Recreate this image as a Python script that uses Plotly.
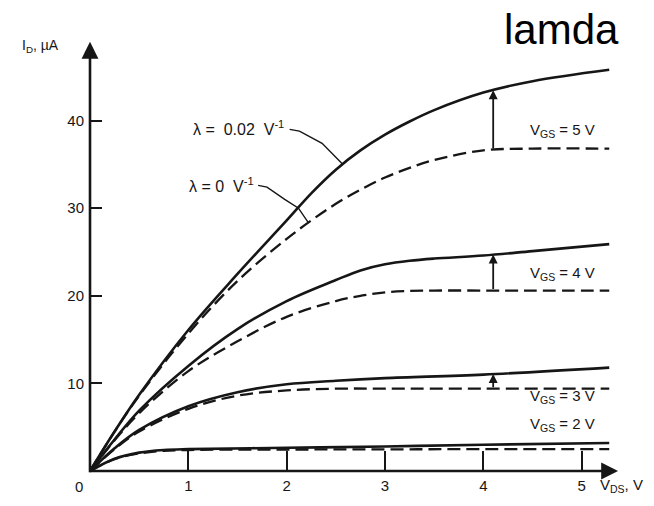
import numpy as np
import plotly.graph_objects as go

# Drain voltage samples (V) and drain current (uA) for each gate voltage
vds_5 = [0, 0.25, 0.5, 1.0, 1.5, 2.0, 2.25, 2.5, 2.75, 3.0, 3.25, 3.5, 4.0, 4.5, 5.28]
id_5_lam = [0, 4.5, 8.7, 16.1, 22.5, 28.6, 31.7, 34.4, 36.6, 38.4, 39.9, 41.2, 43.2, 44.5, 45.8]
id_5_ideal = [0, 4.5, 8.6, 15.7, 21.7, 26.5, 28.6, 30.5, 32.1, 33.5, 34.6, 35.5, 36.6, 36.8, 36.8]

vds_4 = [0, 0.25, 0.5, 1.0, 1.5, 2.0, 2.5, 2.75, 3.0, 3.25, 3.5, 4.0, 4.5, 5.28]
id_4_lam = [0, 3.6, 6.9, 12.0, 16.2, 19.4, 21.8, 22.9, 23.6, 24.0, 24.25, 24.6, 25.1, 25.9]
id_4_ideal = [0, 3.5, 6.6, 11.4, 14.8, 17.6, 19.4, 20.0, 20.4, 20.55, 20.6, 20.6, 20.6, 20.6]

vds_3 = [0, 0.25, 0.5, 1.0, 1.5, 2.0, 2.5, 3.0, 4.0, 5.28]
id_3_lam = [0, 2.6, 4.7, 7.4, 9.0, 9.9, 10.3, 10.6, 11.0, 11.8]
id_3_ideal = [0, 2.5, 4.5, 7.1, 8.6, 9.2, 9.4, 9.4, 9.4, 9.4]

vds_2 = [0, 0.25, 0.5, 0.75, 1.0, 2.0, 3.0, 4.0, 5.28]
id_2_lam = [0, 1.4, 2.1, 2.4, 2.5, 2.65, 2.8, 3.0, 3.2]
id_2_ideal = [0, 1.35, 2.0, 2.3, 2.4, 2.45, 2.47, 2.5, 2.5]

vgs_labels = ["5", "4", "3", "2"]
vgs_label_y = [38.9, 22.6, 8.5, 5.3]
x_ticks = [1, 2, 3, 4, 5]
y_ticks = [10, 20, 30, 40]
arrow_vds = 4.1

INK = "#161616"
FONT = "Liberation Sans, Arial, sans-serif"

fig = go.Figure()

curves = [
    (vds_5, id_5_lam, id_5_ideal),
    (vds_4, id_4_lam, id_4_ideal),
    (vds_3, id_3_lam, id_3_ideal),
    (vds_2, id_2_lam, id_2_ideal),
]
for v, lam, ideal in curves:
    fig.add_trace(go.Scatter(x=v, y=lam, mode="lines", hoverinfo="skip",
                             line=dict(color=INK, width=2.6, shape="spline", smoothing=1.0)))
    fig.add_trace(go.Scatter(x=v, y=ideal, mode="lines", hoverinfo="skip",
                             line=dict(color=INK, width=2.3, shape="spline", smoothing=1.0,
                                       dash="13px,6px")))

annotations = []

# axes drawn as arrows
annotations.append(dict(x=5.37, y=0, ax=-0.02, ay=0, xref="x", yref="y", axref="x", ayref="y",
                        text="", showarrow=True, arrowhead=2, arrowsize=1.3, arrowwidth=2.6,
                        arrowcolor=INK, standoff=0, startstandoff=0))
annotations.append(dict(x=0, y=49.0, ax=0, ay=-0.3, xref="x", yref="y", axref="x", ayref="y",
                        text="", showarrow=True, arrowhead=2, arrowsize=1.3, arrowwidth=2.6,
                        arrowcolor=INK, standoff=0, startstandoff=0))

# vertical arrows from the lambda = 0 level to the lambda = 0.02 curve
for v, lam, ideal in curves[:3]:
    y_top = float(np.interp(arrow_vds, v, lam))
    y_bot = float(np.interp(arrow_vds, v, ideal))
    annotations.append(dict(x=arrow_vds, y=y_top, ax=arrow_vds, ay=y_bot,
                            xref="x", yref="y", axref="x", ayref="y", text="",
                            showarrow=True, arrowhead=2, arrowsize=1.0, arrowwidth=1.8,
                            arrowcolor=INK, standoff=0, startstandoff=0))

# gate voltage labels
for lab, yy in zip(vgs_labels, vgs_label_y):
    annotations.append(dict(x=4.455, y=yy, xref="x", yref="y", xanchor="left", yanchor="middle",
                            text=f"V<sub>GS</sub>\u00a0=\u00a0{lab}\u00a0V", showarrow=False,
                            font=dict(family=FONT, size=15, color=INK)))

# lambda labels
annotations.append(dict(x=1.99, y=39.1, xref="x", yref="y", xanchor="right", yanchor="middle",
                        text="λ\u00a0=\u00a0\u00a00.02\u00a0\u00a0V<sup>-1</sup>", showarrow=False,
                        font=dict(family=FONT, size=16, color=INK)))
annotations.append(dict(x=1.69, y=32.6, xref="x", yref="y", xanchor="right", yanchor="middle",
                        text="λ\u00a0=\u00a00\u00a0\u00a0V<sup>-1</sup>", showarrow=False,
                        font=dict(family=FONT, size=16, color=INK)))

# axis titles and origin label
annotations.append(dict(x=-0.131, y=0.986, xref="paper", yref="paper", xanchor="left",
                        yanchor="middle", text="I<sub>D</sub>,\u00a0µA", showarrow=False,
                        font=dict(family=FONT, size=14, color=INK)))
annotations.append(dict(x=0.953, y=-0.034, xref="paper", yref="paper", xanchor="left",
                        yanchor="middle", text="V<sub>DS</sub>,\u00a0V", showarrow=False,
                        font=dict(family=FONT, size=15, color=INK)))
annotations.append(dict(x=-0.021, y=-0.036, xref="paper", yref="paper", xanchor="center",
                        yanchor="middle", text="0", showarrow=False,
                        font=dict(family=FONT, size=15, color=INK)))

# heading
annotations.append(dict(x=0.773, y=1.025, xref="paper", yref="paper", xanchor="left",
                        yanchor="middle", text="lamda", showarrow=False,
                        font=dict(family=FONT, size=42, color="#000000")))

# leader lines from the lambda labels to their curves
end_lam = 2.57
end_ideal = 2.22
shapes = [
    dict(type="path", xref="x", yref="y",
         path=(f"M 2.03,39.0 L 2.13,38.8 L 2.36,37.4 "
               f"L {end_lam},{float(np.interp(end_lam, vds_5, id_5_lam)):.2f}"),
         line=dict(color=INK, width=1.4)),
    dict(type="path", xref="x", yref="y",
         path=(f"M 1.71,32.6 L 1.80,32.4 L 1.98,31.0 L 2.12,30.0 "
               f"L {end_ideal},{float(np.interp(end_ideal, vds_5, id_5_ideal)):.2f}"),
         line=dict(color=INK, width=1.4)),
]

fig.update_layout(
    width=654, height=506,
    margin=dict(l=90, r=31, t=40, b=27),
    paper_bgcolor="white", plot_bgcolor="white",
    showlegend=False,
    annotations=annotations,
    shapes=shapes,
    xaxis=dict(range=[0, 5.42], showgrid=False, zeroline=False, showline=False,
               tickvals=x_ticks, ticktext=[str(t) for t in x_ticks],
               ticks="inside", ticklen=20, tickwidth=1.6, tickcolor=INK,
               ticklabelstandoff=4,
               tickfont=dict(family=FONT, size=15, color=INK)),
    yaxis=dict(range=[0, 49.2], showgrid=False, zeroline=False, showline=False,
               tickvals=y_ticks, ticktext=[str(t) for t in y_ticks],
               ticks="inside", ticklen=12, tickwidth=2, tickcolor=INK,
               ticklabelstandoff=5,
               tickfont=dict(family=FONT, size=15, color=INK)),
)

fig.write_html("out.html")
